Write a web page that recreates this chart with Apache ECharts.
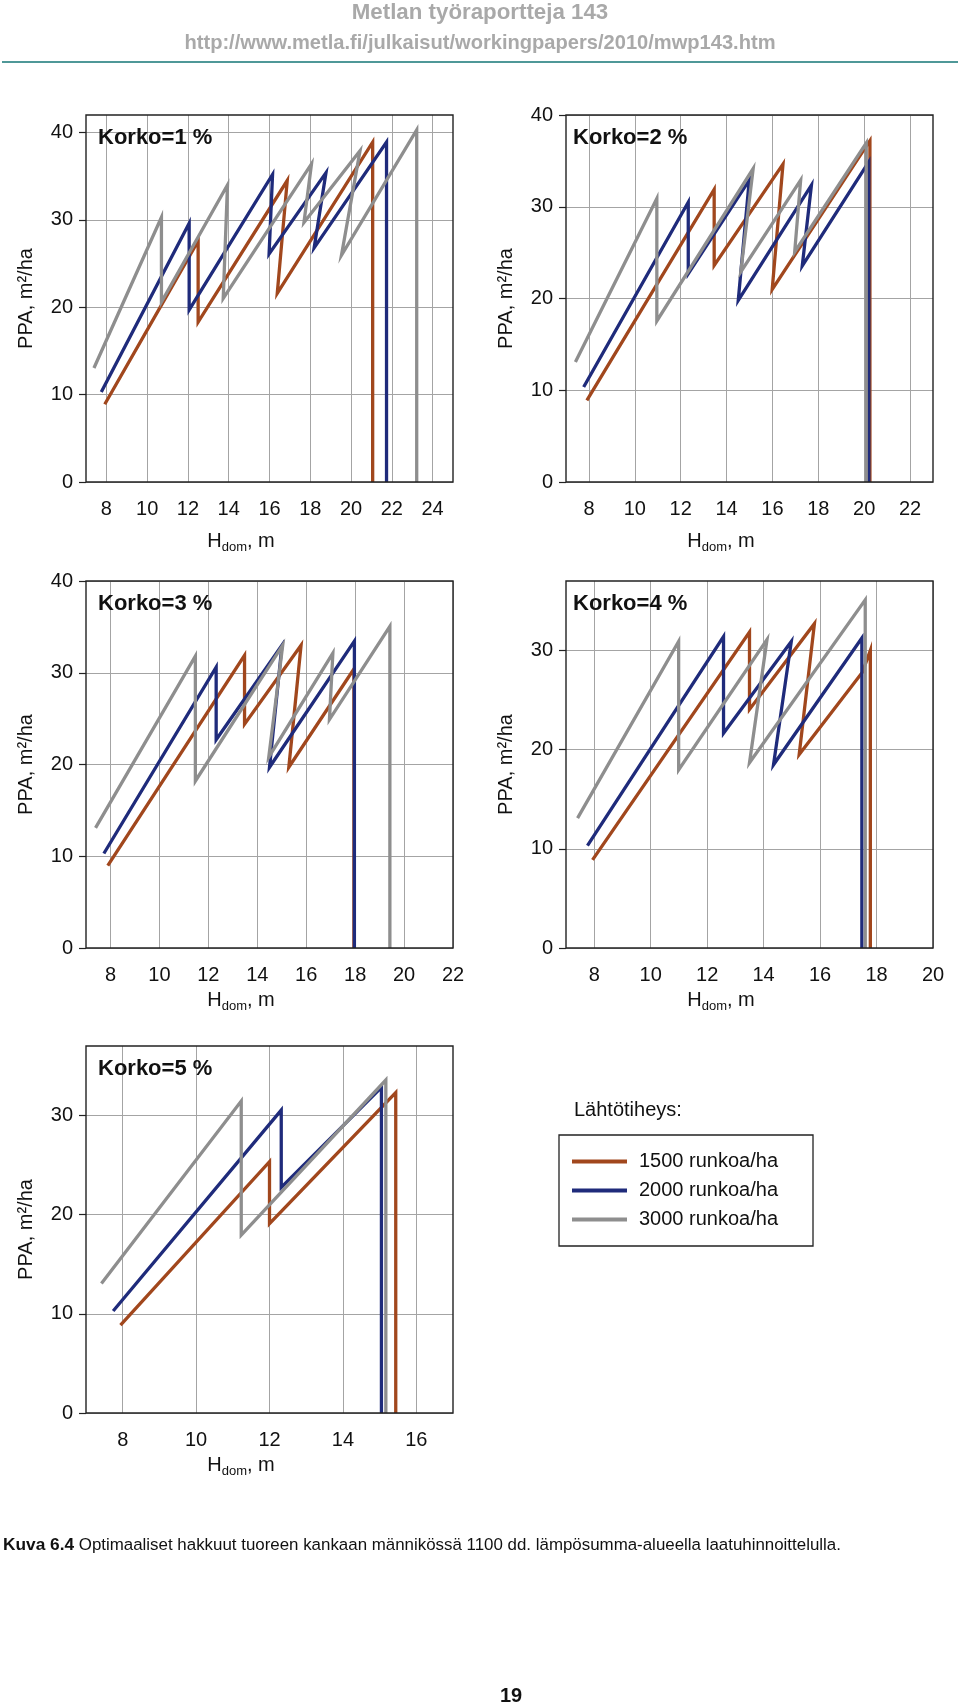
<!DOCTYPE html>
<html><head><meta charset="utf-8">
<script src="https://cdn.jsdelivr.net/npm/echarts@6/dist/echarts.min.js"></script>
<style>html,body{margin:0;padding:0;background:#fff}#c{width:960px;height:1706px}</style>
</head><body><div id="c"></div>
<script>
// ---- data ----
const panelTitles = ['Korko=1 %', 'Korko=2 %', 'Korko=3 %', 'Korko=4 %', 'Korko=5 %'];
const xMax = [25, 23, 22, 20, 17];
const yMax = [42, 40, 40, 37, 37];
const yTicks = [0, 10, 20, 30, 40];
const densityNames = ['1500 runkoa/ha', '2000 runkoa/ha', '3000 runkoa/ha'];

// [H_dom, PPA] points
const k1_1500 = [[7.92,8.9],[12.5,27.6],[12.5,18.3],[16.87,34.5],[16.38,21.6],[21.06,38.9],[21.06,0]];
const k1_2000 = [[7.75,10.3],[12.06,29.6],[12.06,19.7],[16.15,35.2],[15.98,26.1],[18.77,35.4],[18.19,26.8],[21.74,38.9],[21.74,0]];
const k1_3000 = [[7.39,13.05],[10.7,30.3],[10.7,20.6],[13.94,34.0],[13.73,21.0],[18.06,36.4],[17.69,29.7],[20.44,37.9],[19.53,25.95],[23.22,40.3],[23.22,0]];

const k2_1500 = [[7.91,8.9],[13.46,31.9],[13.46,23.6],[16.46,34.65],[15.99,21.0],[20.25,37.2],[20.25,0]];
const k2_2000 = [[7.77,10.35],[12.33,30.5],[12.33,22.7],[14.99,32.9],[14.51,19.8],[17.7,32.35],[17.3,23.55],[20.2,34.9],[20.2,0]];
const k2_3000 = [[7.41,13.08],[10.96,30.9],[10.96,17.55],[15.16,34.15],[14.62,22.9],[17.23,32.9],[16.97,25.07],[20.09,36.95],[20.09,0]];

const k3_1500 = [[7.89,8.98],[13.48,31.9],[13.48,24.4],[15.79,33.0],[15.29,19.7],[17.95,30.4],[17.95,0]];
const k3_2000 = [[7.73,10.3],[12.32,30.6],[12.32,22.7],[15.01,33.0],[14.5,19.7],[17.97,33.45],[17.97,0]];
const k3_3000 = [[7.39,13.1],[11.47,31.8],[11.47,18.2],[15.04,33.0],[14.47,20.8],[17.09,32.15],[16.95,24.9],[19.42,35.05],[19.42,0]];

const k4_1500 = [[7.94,8.88],[13.5,31.85],[13.5,24.05],[15.8,32.7],[15.26,19.5],[17.5,27.8],[17.78,30.0],[17.78,0]];
const k4_2000 = [[7.76,10.33],[12.58,31.4],[12.58,21.66],[14.98,30.9],[14.35,18.47],[17.48,31.25],[17.48,0]];
const k4_3000 = [[7.41,13.1],[10.99,30.9],[10.99,17.96],[14.12,31.1],[13.5,18.67],[17.6,35.1],[17.6,0]];

const k5_1500 = [[7.94,8.85],[12.0,25.33],[12.0,19.1],[15.44,32.3],[15.44,0]];
const k5_2000 = [[7.74,10.29],[12.32,30.54],[12.32,22.74],[15.05,32.83],[15.05,0]];
const k5_3000 = [[7.42,13.05],[11.23,31.45],[11.23,17.93],[15.17,33.57],[15.17,0]];

const panelData = [
  [k1_1500, k1_2000, k1_3000],
  [k2_1500, k2_2000, k2_3000],
  [k3_1500, k3_2000, k3_3000],
  [k4_1500, k4_2000, k4_3000],
  [k5_1500, k5_2000, k5_3000]
];

// ---- style / layout ----
const FONT = '"Liberation Sans", Arial, Helvetica, sans-serif';
const TXT = '#111';
const lineColors = ['#a1471d', '#1f2b7b', '#8e8e8e'];
const gridColor = '#a4a4a4';
const gridPos = [[86,115],[566,115],[86,581],[566,581],[86,1046]];
const GW = 367, GH = 367;

const grids = [], xAxes = [], yAxes = [], series = [], titles = [], graphics = [];

panelData.forEach((sets, i) => {
  const [gl, gt] = gridPos[i];
  grids.push({ left: gl, top: gt, width: GW, height: GH, show: false });
  xAxes.push({
    gridIndex: i, type: 'value', min: 7, max: xMax[i], interval: 1,
    axisLine: { show: false }, axisTick: { show: false },
    splitLine: { show: true, lineStyle: { color: ['rgba(0,0,0,0)', gridColor], width: 1 } },
    axisLabel: { margin: 17, fontSize: 20, color: TXT, fontFamily: FONT,
      formatter: v => (Math.round(v) % 2 === 0 ? String(Math.round(v)) : '') },
    name: '{h|H}{s|dom}{h|, m}', nameLocation: 'middle', nameGap: i < 2 ? 47 : 40,
    nameTextStyle: { padding: [0, 57, 0, 0],
      rich: { h: { fontSize: 20, fontFamily: FONT, color: TXT },
              s: { fontSize: 13, fontFamily: FONT, color: TXT, padding: [12, 0, 0, 0] } } }
  });
  const ticks = yTicks.filter(v => v <= yMax[i]);
  yAxes.push({
    gridIndex: i, type: 'value', min: 0, max: yMax[i], interval: 10,
    axisLine: { show: false },
    axisTick: { show: true, length: 7, lineStyle: { color: '#222', width: 1.2 }, customValues: ticks },
    splitLine: { show: true, lineStyle: { color: gridColor, width: 1 } },
    axisLabel: { margin: 13, fontSize: 20, color: TXT, fontFamily: FONT, customValues: ticks,
      formatter: v => (v % 10 === 0 ? String(v) : '') },
    name: 'PPA, m²/ha', nameLocation: 'middle', nameGap: 50,
    nameTextStyle: { fontSize: 20, fontFamily: FONT, color: TXT }
  });
  sets.forEach((d, k) => {
    series.push({
      type: 'line', name: densityNames[k], xAxisIndex: i, yAxisIndex: i,
      data: d, showSymbol: false, symbol: 'none', silent: true, animation: false,
      color: lineColors[k], itemStyle: { color: lineColors[k] },
      lineStyle: { color: lineColors[k], width: 3.3, join: 'miter', cap: 'butt' },
      z: 2 + k
    });
  });
  titles.push({
    text: panelTitles[i], left: gl + (i % 2 ? 7 : 12), top: gt + 12, padding: 0,
    textStyle: { fontSize: 22, fontWeight: 'bold', fontFamily: FONT, color: TXT }
  });
  graphics.push({
    type: 'rect', z: 50, silent: true,
    shape: { x: gl, y: gt, width: GW, height: GH },
    style: { fill: 'none', stroke: '#222', lineWidth: 1.4 }
  });
});

// header, caption, legend label
titles.push({ text: 'Metlan työraportteja 143', left: 'center', top: 2, padding: 0,
  textStyle: { fontSize: 22.3, fontWeight: 'bold', fontFamily: FONT, color: '#a9a9a9' } });
titles.push({ text: 'http://www.metla.fi/julkaisut/workingpapers/2010/mwp143.htm', left: 'center', top: 33, padding: 0,
  textStyle: { fontSize: 20.1, fontWeight: 'bold', fontFamily: FONT, color: '#a9a9a9' } });
titles.push({ text: 'Lähtötiheys:', left: 574, top: 1100, padding: 0,
  textStyle: { fontSize: 20, fontWeight: 'normal', fontFamily: FONT, color: TXT } });
titles.push({ text: '{b|Kuva 6.4} Optimaaliset hakkuut tuoreen kankaan männikössä 1100 dd. lämpösumma-alueella laatuhinnoittelulla.',
  left: 3, top: 1537, padding: 0,
  textStyle: { fontSize: 16.9, fontWeight: 'normal', fontFamily: FONT, color: TXT,
    rich: { b: { fontSize: 17.3, fontWeight: 'bold', fontFamily: FONT, color: TXT } } } });
titles.push({ text: '19', left: 500, top: 1686, padding: 0,
  textStyle: { fontSize: 20, fontWeight: 'bold', fontFamily: FONT, color: TXT } });

graphics.push({ type: 'line', silent: true, shape: { x1: 2, y1: 62, x2: 958, y2: 62 },
  style: { stroke: '#4f9898', lineWidth: 2 } });

const chart = echarts.init(document.getElementById('c'), null, { renderer: 'canvas' });
chart.setOption({
  animation: false,
  backgroundColor: '#fff',
  title: titles,
  grid: grids,
  xAxis: xAxes,
  yAxis: yAxes,
  series: series,
  legend: {
    data: densityNames, orient: 'vertical', left: 559, top: 1135,
    padding: [12, 35, 12, 13], itemGap: 0, itemWidth: 55, itemHeight: 4, icon: 'rect',
    selectedMode: false, borderColor: '#222', borderWidth: 1.3, backgroundColor: '#fff',
    textStyle: { fontSize: 20, fontFamily: FONT, color: TXT, lineHeight: 29, padding: [0, 0, 0, 7] }
  },
  graphic: graphics
});
</script></body></html>
